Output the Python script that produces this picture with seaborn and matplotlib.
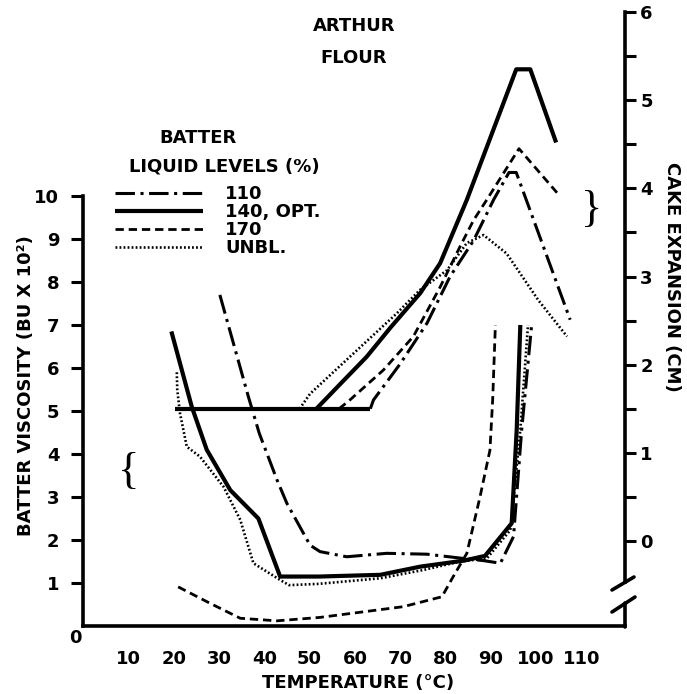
import matplotlib
matplotlib.use("Agg")
import matplotlib.pyplot as plt
from matplotlib.lines import Line2D
import seaborn as sns

# ---------------- data ----------------
temp_ticks = [10, 20, 30, 40, 50, 60, 70, 80, 90, 100, 110]
visc_ticks = [1, 2, 3, 4, 5, 6, 7, 8, 9, 10]
cake_ticks = [0, 1, 2, 3, 4, 5, 6]
cake_minor = [0.5, 1.5, 2.5, 3.5, 4.5, 5.5]
series_labels = ["110", "140, OPT.", "170", "UNBL."]

# batter viscosity (BU x 10^2) vs temperature (C)
visc_110_T = [30.2, 36.5, 38.9, 42.8, 45.0, 50.1, 52.3, 58.2, 67.0, 75.9, 84.0, 88.4, 92.1, 95.0, 96.8, 99.0]
visc_110_V = [7.7, 5.33, 4.48, 3.4, 2.85, 1.88, 1.73, 1.61, 1.69, 1.67, 1.57, 1.52, 1.46, 2.08, 4.56, 7.0]
visc_140_T = [19.5, 24.0, 27.3, 32.5, 38.7, 43.5, 52.0, 65.6, 74.4, 84.0, 88.7, 94.6, 95.7, 96.5]
visc_140_V = [6.85, 5.1, 4.1, 3.16, 2.5, 1.15, 1.15, 1.19, 1.38, 1.52, 1.63, 2.39, 4.56, 7.0]
visc_170_T = [21.0, 28.0, 34.7, 42.8, 52.3, 61.9, 70.7, 79.2, 81.7, 84.7, 87.6, 89.8, 90.4, 91.0]
visc_170_V = [0.91, 0.53, 0.18, 0.12, 0.2, 0.33, 0.45, 0.68, 1.15, 1.69, 3.0, 4.09, 5.26, 7.0]
visc_unbl_T = [20.7, 20.8, 21.4, 22.9, 25.8, 31.0, 34.7, 37.6, 43.5, 45.5, 52.0, 65.6, 75.0, 83.2, 89.1, 94.3, 96.5, 98.2]
visc_unbl_V = [5.9, 5.49, 4.95, 4.17, 3.94, 3.24, 2.47, 1.46, 1.07, 0.95, 0.98, 1.11, 1.3, 1.5, 1.57, 2.23, 4.56, 7.0]

# cake expansion (cm) vs temperature (C)
base_T = [20.3, 63.4]
base_C = [1.5, 1.5]
cake_110_T = [63.4, 64.1, 70.0, 75.9, 81.0, 86.2, 90.6, 94.0, 95.6, 107.5]
cake_110_C = [1.5, 1.6, 2.01, 2.47, 3.0, 3.41, 3.87, 4.18, 4.18, 2.51]
cake_140_T = [51.5, 56.0, 62.6, 68.0, 74.4, 78.8, 84.7, 95.6, 98.7, 104.4]
cake_140_C = [1.5, 1.74, 2.09, 2.43, 2.81, 3.15, 3.87, 5.35, 5.35, 4.52]
cake_170_T = [56.5, 58.9, 66.3, 72.9, 78.8, 83.2, 86.2, 89.1, 96.2, 104.6]
cake_170_C = [1.5, 1.6, 1.94, 2.32, 2.88, 3.34, 3.64, 3.87, 4.45, 3.95]
cake_unbl_T = [47.8, 50.1, 58.9, 69.2, 74.4, 80.3, 84.7, 88.4, 93.5, 100.5, 106.8]
cake_unbl_C = [1.5, 1.67, 2.09, 2.58, 2.85, 3.07, 3.38, 3.47, 3.26, 2.73, 2.32]

# ---------------- style ----------------
sns.set_style("white")
plt.rcParams["font.family"] = ["DejaVu Sans"]
plt.rcParams["font.weight"] = "bold"
plt.rcParams["lines.scale_dashes"] = False
for k in ["text.color", "axes.labelcolor", "xtick.color", "ytick.color", "axes.edgecolor"]:
    plt.rcParams[k] = "black"

FS = 13
styles = {
    "110": dict(lw=2.2, linestyle=(0, (14, 4, 2.2, 4))),
    "140, OPT.": dict(lw=3.0, linestyle="-"),
    "170": dict(lw=2.0, linestyle=(0, (6, 3.5))),
    "UNBL.": dict(lw=1.9, linestyle=(0, (1.3, 1.6))),
}

W, H = 687, 694
fig = plt.figure(figsize=(W / 100, H / 100), dpi=100)
fig.patch.set_facecolor("white")

# axes box in pixel terms (left spine x=83, right spine x=625, bottom y=626, top y=12)
ax = fig.add_axes([83 / W, 1 - 626 / H, (625 - 83) / W, (626 - 12) / H])
ax.set_facecolor("none")
ax.set_xlim(0, 119.6)
ax.set_ylim(0, 614 / 43.0)

ax2 = ax.twinx()
ax2.set_ylim((541 - 626) / 88.2, (541 - 12) / 88.2)


def draw(axis, xs, ys, key, label=None):
    sns.lineplot(x=xs, y=ys, ax=axis, sort=False, estimator=None, color="black",
                 solid_capstyle="butt", dash_capstyle="butt", clip_on=False,
                 label=label, legend=False, **styles[key])
    return axis.lines[-1]


# viscosity curves (left axis)
h110 = draw(ax, visc_110_T, visc_110_V, "110", series_labels[0])
h140 = draw(ax, visc_140_T, visc_140_V, "140, OPT.", series_labels[1])
h170 = draw(ax, visc_170_T, visc_170_V, "170", series_labels[2])
hunb = draw(ax, visc_unbl_T, visc_unbl_V, "UNBL.", series_labels[3])

# cake expansion curves (right axis)
draw(ax2, cake_unbl_T, cake_unbl_C, "UNBL.")
draw(ax2, cake_170_T, cake_170_C, "170")
draw(ax2, cake_110_T, cake_110_C, "110")
draw(ax2, base_T, base_C, "140, OPT.")
draw(ax2, cake_140_T, cake_140_C, "140, OPT.")

# ---------------- axes / spines ----------------
SPW = 2.6
for s in ["top", "right"]:
    ax.spines[s].set_visible(False)
for s in ["top", "left", "bottom"]:
    ax2.spines[s].set_visible(False)
ax.spines["left"].set_linewidth(SPW)
ax.spines["bottom"].set_linewidth(SPW)
ax.spines["left"].set_bounds(0, 10)
ax2.spines["right"].set_linewidth(SPW)
ax2.spines["right"].set_bounds(-0.47, 6.0)

ax.set_xticks(temp_ticks)
ax.set_xticklabels([str(t) for t in temp_ticks])
ax.set_yticks(visc_ticks)
ax.set_yticklabels([str(v) for v in visc_ticks])
ax.tick_params(axis="x", direction="out", length=9, width=2.2, pad=8, labelsize=FS, colors="black")
ax.tick_params(axis="y", direction="out", length=9, width=2.2, pad=8, labelsize=FS, colors="black")
ax2.set_yticks(cake_ticks)
ax2.set_yticklabels([str(c) for c in cake_ticks])
ax2.set_yticks(cake_minor, minor=True)
ax2.tick_params(axis="y", which="major", direction="out", length=8, width=2.2, pad=3, labelsize=FS, colors="black")
ax2.tick_params(axis="y", which="minor", direction="out", length=8, width=2.2, colors="black")
ax.grid(False)
ax2.grid(False)

# lower piece of the broken right axis and the break marks
fig.add_artist(Line2D([625 / W, 625 / W], [1 - 603 / H, 1 - 627 / H], color="black", lw=SPW))
fig.add_artist(Line2D([612 / W, 634 / W], [1 - 590 / H, 1 - 577 / H], color="black", lw=2.6))
fig.add_artist(Line2D([612 / W, 635 / W], [1 - 612 / H, 1 - 597 / H], color="black", lw=2.6))

# ---------------- texts ----------------
def ftext(x, y, s, **kw):
    fig.text(x / W, 1 - y / H, s, fontsize=kw.pop("fontsize", FS), ha=kw.pop("ha", "center"),
             va=kw.pop("va", "center"), color="black", **kw)

ftext(354, 26, "ARTHUR")
ftext(354, 58, "FLOUR")
ftext(198, 138, "BATTER")
ftext(224, 166, "LIQUID LEVELS (%)")
ftext(26, 386, "BATTER VISCOSITY (BU X 10²)", rotation=90)
ftext(672, 277, "CAKE EXPANSION (CM)", rotation=-90)
ftext(358, 683, "TEMPERATURE (°C)")
ftext(75, 638, "0")
ftext(129, 472, "{", fontsize=32, family="Liberation Serif", fontweight="normal")
ftext(592, 210, "}", fontsize=32, family="Liberation Serif", fontweight="normal")

fpx = FS * 100 / 72.0
fig.legend(handles=[h110, h140, h170, hunb], labels=series_labels, loc="upper left",
           bbox_to_anchor=(115 / W, 1 - 185 / H), frameon=False, borderpad=0, borderaxespad=0,
           handlelength=88 / fpx, handletextpad=22 / fpx, labelspacing=0.0, fontsize=FS,
           labelcolor="black")

fig.savefig("out.png", dpi=100, facecolor="white")
